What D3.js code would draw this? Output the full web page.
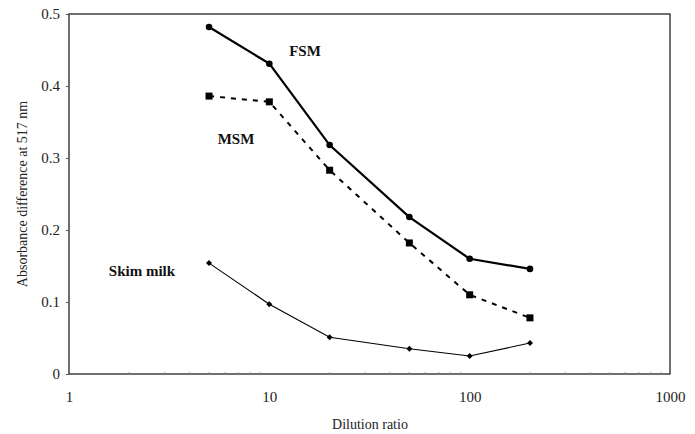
<!DOCTYPE html>
<html><head><meta charset="utf-8">
<script src="https://cdn.jsdelivr.net/npm/d3@7"></script>
<style>body{margin:0;background:#fff}svg{display:block}text{font-family:"Liberation Serif","Times New Roman",serif}</style>
</head><body>
<svg id="c" width="695" height="434"></svg>
<script>
const dilution = [5, 10, 20, 50, 100, 200];
const fsm = [0.482, 0.431, 0.318, 0.218, 0.160, 0.146];
const msm = [0.386, 0.378, 0.283, 0.182, 0.110, 0.078];
const skim = [0.154, 0.097, 0.051, 0.035, 0.025, 0.043];
const xTicks = [1, 10, 100, 1000];
const yTicks = [0, 0.1, 0.2, 0.3, 0.4, 0.5];

const svg = d3.select("#c");
const L = 69, R = 670, T = 14, B = 374;
const x = d3.scaleLog().domain([1, 1000]).range([L, R]);
const y = d3.scaleLinear().domain([0, 0.5]).range([B, T]);

// frame
svg.append("rect").attr("x", L).attr("y", T).attr("width", R - L).attr("height", B - T)
  .attr("fill", "none").attr("stroke", "#222").attr("stroke-width", 1.3);

// y axis
const ya = svg.append("g").attr("transform", `translate(${L},0)`)
  .call(d3.axisLeft(y).tickValues(yTicks).tickSize(3).tickPadding(6).tickFormat(d => d === 0 ? "0" : d3.format(".1f")(d)));
ya.select(".domain").remove();
ya.selectAll("text").attr("font-size", 15).attr("fill", "#222").style("font-family", "Liberation Serif");
ya.selectAll("line").attr("stroke", "#555");

// x axis
const xa = svg.append("g").attr("transform", `translate(0,${B})`)
  .call(d3.axisBottom(x).tickValues(xTicks).tickSize(0).tickPadding(17).tickFormat(d3.format("d")));
xa.select(".domain").remove();
xa.selectAll("text").attr("font-size", 15).attr("fill", "#222").style("font-family", "Liberation Serif");
// minor ticks pointing inward
const minor = [];
[1, 10, 100].forEach(b => { for (let k = 2; k <= 9; k++) minor.push(b * k); });
svg.append("g").selectAll("line").data(minor).join("line")
  .attr("x1", d => x(d)).attr("x2", d => x(d)).attr("y1", B).attr("y2", B - 2)
  .attr("stroke", "#888").attr("stroke-width", 0.8);

// axis titles
svg.append("text").attr("x", 370).attr("y", 429).attr("text-anchor", "middle")
  .attr("font-size", 14).attr("fill", "#222").text("Dilution ratio");
svg.append("text").attr("transform", "translate(27,194) rotate(-90)").attr("text-anchor", "middle")
  .attr("font-size", 14).attr("fill", "#222").text("Absorbance difference at 517 nm");

const line = d3.line().x((d, i) => x(dilution[i])).y(d => y(d));

svg.append("path").datum(fsm).attr("d", line).attr("fill", "none").attr("stroke", "#000").attr("stroke-width", 2.2);
svg.append("path").datum(msm).attr("d", line).attr("fill", "none").attr("stroke", "#000").attr("stroke-width", 2).attr("stroke-dasharray", "5,6");
svg.append("path").datum(skim).attr("d", line).attr("fill", "none").attr("stroke", "#000").attr("stroke-width", 1.1);

svg.append("g").selectAll("circle").data(fsm).join("circle")
  .attr("cx", (d, i) => x(dilution[i])).attr("cy", d => y(d)).attr("r", 3.3).attr("fill", "#000");
svg.append("g").selectAll("rect").data(msm).join("rect")
  .attr("x", (d, i) => x(dilution[i]) - 3.5).attr("y", d => y(d) - 3.5).attr("width", 7).attr("height", 7).attr("fill", "#000");
svg.append("g").selectAll("path").data(skim).join("path")
  .attr("d", d3.symbol().type(d3.symbolSquare).size(18))
  .attr("transform", (d, i) => `translate(${x(dilution[i])},${y(d)}) rotate(45)`)
  .attr("fill", "#000");

// series labels
const labels = [
  {t: "FSM", x: 305, y: 56},
  {t: "MSM", x: 236, y: 144},
  {t: "Skim milk", x: 142, y: 276}
];
svg.append("g").selectAll("text").data(labels).join("text")
  .attr("x", d => d.x).attr("y", d => d.y).attr("text-anchor", "middle")
  .attr("font-size", 15).attr("font-weight", "bold").attr("fill", "#111").text(d => d.t);
</script>
</body></html>
